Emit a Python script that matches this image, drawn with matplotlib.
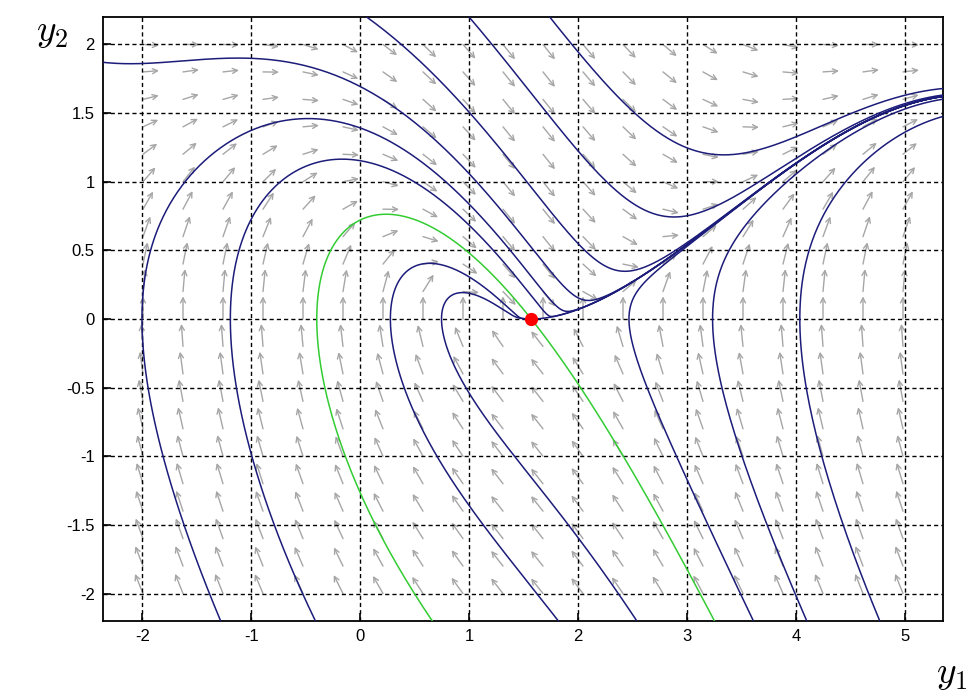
import math
import numpy as np
import matplotlib
matplotlib.use("Agg")
import matplotlib.pyplot as plt

plt.rcParams["font.family"] = ["Liberation Sans", "DejaVu Sans"]
plt.rcParams["mathtext.fontset"] = "cm"

# system: y1' = y2,  y2' = forcing - sin(y1) - damping * y2
damping = 1.0
forcing = 1.0
equilibrium = (math.pi / 2, 0.0)

# window
y1_lim = [-2.36, 5.35]
y2_lim = [-2.2, 2.2]
x_ticks = [-2, -1, 0, 1, 2, 3, 4, 5]
x_tick_labels = ["-2", "-1", "0", "1", "2", "3", "4", "5"]
y_ticks = [-2, -1.5, -1, -0.5, 0, 0.5, 1, 1.5, 2]
y_tick_labels = ["-2", "-1.5", "-1", "-0.5", "0", "0.5", "1", "1.5", "2"]

# initial points of the solution curves
start_y1 = [-2.36, 0.06, 1.00, 1.74, -1.28, -0.41, 1.82, 2.54, 3.61, 4.10, 4.77]
start_y2 = [1.87, 2.2, 2.2, 2.2, -2.2, -2.2, -2.2, -2.2, -2.2, -2.2, -2.2]

# direction field grid
n_cols = 20
n_rows = 21


def rhs(y1, y2):
    return y2, forcing - math.sin(y1) - damping * y2


def solve(p, sign, dt=0.01, nmax=30000):
    y1, y2 = p
    out = [(y1, y2)]
    h = sign * dt
    for _ in range(nmax):
        k1 = rhs(y1, y2)
        k2 = rhs(y1 + h / 2 * k1[0], y2 + h / 2 * k1[1])
        k3 = rhs(y1 + h / 2 * k2[0], y2 + h / 2 * k2[1])
        k4 = rhs(y1 + h * k3[0], y2 + h * k3[1])
        y1 += h / 6 * (k1[0] + 2 * k2[0] + 2 * k3[0] + k4[0])
        y2 += h / 6 * (k1[1] + 2 * k2[1] + 2 * k3[1] + k4[1])
        out.append((y1, y2))
        if not (y1_lim[0] - 0.1 < y1 < y1_lim[1] + 0.1 and y2_lim[0] - 0.1 < y2 < y2_lim[1] + 0.1):
            break
        # forward solutions stop once they settle on the equilibrium
        if sign > 0 and abs(y1 - equilibrium[0]) < 2e-3 and abs(y2) < 2e-3:
            break
    return np.array(out)


def full_orbit(p):
    back = solve(p, -1)[::-1]
    fwd = solve(p, 1)
    return np.vstack([back, fwd[1:]])


fig = plt.figure(figsize=(9.73, 6.91), dpi=100)
ax = fig.add_axes([103 / 973, 70 / 691, 840 / 973, 604 / 691])
ax.set_xlim(y1_lim)
ax.set_ylim(y2_lim)

# direction field (tails on the grid, open heads)
dx_cell = (y1_lim[1] - y1_lim[0]) / 21
len_x, len_y = 0.147, 0.165
for i in range(1, n_cols + 1):
    gx = y1_lim[0] + i * dx_cell
    for j in range(1, n_rows + 1):
        gy = y2_lim[0] + j * 0.2
        u, v = rhs(gx, gy)
        n = math.hypot(u / len_x, v / len_y)
        if n == 0:
            continue
        ax.annotate("", xy=(gx + u / n, gy + v / n), xytext=(gx, gy),
                    arrowprops=dict(arrowstyle="->", color="#a6a6a6", lw=1.0,
                                    shrinkA=0, shrinkB=0, mutation_scale=9),
                    zorder=1)

# grid
ax.set_xticks(x_ticks)
ax.set_xticklabels(x_tick_labels)
ax.set_yticks(y_ticks)
ax.set_yticklabels(y_tick_labels)
ax.grid(True, color="black", linestyle=(0, (3, 2.2)), lw=1.0)
ax.tick_params(direction="in", length=6, labelsize=12, width=1.2, pad=6)
for s in ax.spines.values():
    s.set_linewidth(1.3)

# solution curves
navy = "#1c1c7a"
for a, b in zip(start_y1, start_y2):
    orb = full_orbit((a, b))
    ax.plot(orb[:, 0], orb[:, 1], color=navy, lw=1.1, zorder=3)

# branch leaving the equilibrium to the right
d = 0.05
branch = solve((equilibrium[0] + d, d * d / 2), 1)
branch = np.vstack([[equilibrium], branch])
ax.plot(branch[:, 0], branch[:, 1], color=navy, lw=1.1, zorder=3)

# separatrix through the equilibrium along the (1, -1) direction
eps = 1e-4
for sgn in (1, -1):
    p = (equilibrium[0] + sgn * eps, equilibrium[1] - sgn * eps)
    sep = solve(p, -1)
    sep = np.vstack([[equilibrium], sep])
    ax.plot(sep[:, 0], sep[:, 1], color="#33cc33", lw=1.1, zorder=4)

ax.plot([equilibrium[0]], [equilibrium[1]], "o", color="red", ms=8.5, zorder=5)

fig.text(0.037, 0.953, "$y_2$", fontsize=27, va="center")
fig.text(0.978, 0.025, "$y_1$", fontsize=27, va="center", ha="center")

fig.savefig("out.png", dpi=100)
